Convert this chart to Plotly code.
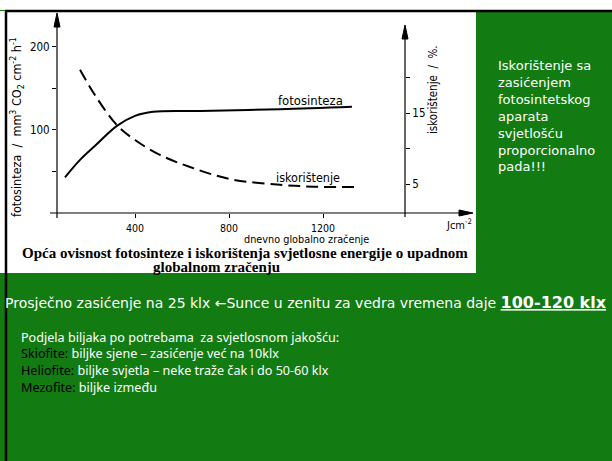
import plotly.graph_objects as go

W, H = 612, 461
def X(px): return px / W
def Y(py): return 1 - py / H

# ---- data ----
irr_fs = [102, 166, 230, 323, 400, 477, 677, 1017, 1323]
fotosinteza = [43, 64, 81, 105, 117, 122, 123, 125, 128]
irr_isk = [166, 230, 323, 400, 506, 634, 804, 1017, 1187, 1345]
iskoristenje = [21.1, 17.5, 13.3, 11.2, 9.1, 7.4, 5.7, 4.9, 4.6, 4.6]

x_ticks = [400, 800, 1200]
y1_ticks = [50, 100, 150, 200]
y1_labels = ["", "100", "", "200"]
y2_ticks = [5, 10, 15, 20]
y2_labels = ["5", "", "15", ""]

side_lines = ["Iskorištenje sa", "zasićenjem", "fotosintetskog", "aparata",
              "svjetlošću", "proporcionalno", "pada!!!"]
list_lines = [
    "Podjela biljaka po potrebama  za svjetlosnom jakošću:",
    "<span style='color:black'>Skiofite:</span> biljke sjene – zasićenje već na 10klx",
    "<span style='color:black'>Heliofite:</span> biljke svjetla – neke traže čak i do 50-60 klx",
    "<span style='color:black'>Mezofite:</span> biljke između",
]

GREEN = "#127b12"
COND = "DejaVu Sans Condensed, Liberation Sans Narrow, sans-serif"
SERIF = "Liberation Serif, serif"

fig = go.Figure()
fig.add_trace(go.Scatter(x=irr_fs, y=fotosinteza, mode="lines",
                         line=dict(color="black", width=2, shape="spline", smoothing=1),
                         showlegend=False, hoverinfo="skip"))
fig.add_trace(go.Scatter(x=irr_isk, y=iskoristenje, mode="lines", yaxis="y2",
                         line=dict(color="black", width=2, shape="spline", smoothing=1,
                                   dash="12px,6px"),
                         showlegend=False, hoverinfo="skip"))

shapes = [
    dict(type="rect", xref="paper", yref="paper", x0=0, x1=X(476), y0=Y(273), y1=Y(11),
         fillcolor="white", line=dict(width=0), layer="below"),
    dict(type="rect", xref="paper", yref="paper", x0=0, x1=1, y0=Y(10), y1=1,
         fillcolor="white", line=dict(width=0), layer="below"),
    dict(type="line", xref="paper", yref="paper", x0=X(5), x1=1, y0=Y(11), y1=Y(11),
         line=dict(color="black", width=2.5)),
    dict(type="line", xref="paper", yref="paper", x0=X(6), x1=X(6), y0=Y(11), y1=0,
         line=dict(color="black", width=2.5)),
    # axis lines
    dict(type="line", xref="paper", yref="paper", x0=X(50), x1=X(466), y0=Y(213), y1=Y(213),
         line=dict(color="black", width=1.2)),
    dict(type="line", xref="paper", yref="paper", x0=X(57), x1=X(57), y0=Y(218), y1=Y(20),
         line=dict(color="black", width=1.2)),
    dict(type="line", xref="paper", yref="paper", x0=X(405), x1=X(405), y0=Y(217), y1=Y(32),
         line=dict(color="black", width=1.2)),
    # arrowheads
    dict(type="path", xref="paper", yref="paper",
         path=f"M {X(57)},{Y(13)} L {X(54)},{Y(27)} L {X(60)},{Y(27)} Z",
         fillcolor="black", line=dict(color="black", width=1)),
    dict(type="path", xref="paper", yref="paper",
         path=f"M {X(405)},{Y(25)} L {X(402)},{Y(39)} L {X(408)},{Y(39)} Z",
         fillcolor="black", line=dict(color="black", width=1)),
    dict(type="path", xref="paper", yref="paper",
         path=f"M {X(473)},{Y(213)} L {X(459)},{Y(210)} L {X(459)},{Y(216)} Z",
         fillcolor="black", line=dict(color="black", width=1)),
]

def ann(text, px, py, size, color="black", family=COND, xanchor="center", angle=0, **kw):
    return dict(text=text, x=X(px), y=Y(py), xref="paper", yref="paper", showarrow=False,
                xanchor=xanchor, yanchor="middle", textangle=angle,
                font=dict(size=size, color=color, family=family), **kw)

annotations = [
    ann("fotosinteza  /  mm<sup>3</sup> CO<sub>2</sub> cm<sup>-2</sup> h<sup>-1</sup>", 17, 127, 12.5, angle=-90),
    ann("iskorištenje  /  %.", 433, 90, 11.5, angle=-90),
    ann("dnevno globalno zračenje", 306, 240, 10.8),
    ann("Jcm<sup>-2</sup>", 459, 224, 11),
    ann("fotosinteza", 310, 100, 13),
    ann("iskorištenje", 308, 177, 12.5),
    ann("<b>Opća ovisnost fotosinteze i iskorištenja svjetlosne energije o upadnom</b>", 245, 253, 15,
        family=SERIF),
    ann("<b>globalnom zračenju</b>", 216, 267, 15, family=SERIF),
    ann("Prosječno zasićenje na 25 klx ←Sunce u zenitu za vedra vremena daje "
        "<b><span style='text-decoration:underline;font-size:16px'>100-120 klx</span></b>",
        3, 302, 14, color="white", family="DejaVu Sans, sans-serif", xanchor="left"),
    ann("<br>".join(side_lines), 496, 116, 13, color="white",
        family="DejaVu Sans, sans-serif", xanchor="left", align="left"),
]
for i, t in enumerate(list_lines):
    annotations.append(ann(t, 19, 337 + 16.8 * i, 12.6, color="white",
                           family="Noto Sans, sans-serif", xanchor="left"))

tickfont = dict(size=11.5, color="black", family=COND)
fig.update_layout(
    width=W, height=H, margin=dict(l=0, r=0, t=0, b=0),
    paper_bgcolor=GREEN, plot_bgcolor="rgba(0,0,0,0)",
    shapes=shapes, annotations=annotations,
    xaxis=dict(domain=[X(57), X(472)], range=[68, 1834], showgrid=False, zeroline=False,
               showline=False, ticks="outside", ticklen=4, tickcolor="black",
               ticklabelstandoff=1,
               tickvals=x_ticks, ticktext=[str(v) for v in x_ticks],
               tickfont=dict(size=10.5, color="black", family=COND)),
    yaxis=dict(domain=[Y(213), Y(20)], range=[0, 232.5], showgrid=False, zeroline=False,
               showline=False, ticks="outside", ticklen=4, tickcolor="black",
               tickvals=y1_ticks, ticktext=y1_labels, tickfont=tickfont),
    yaxis2=dict(overlaying="y", anchor="free", position=X(405), side="right",
                range=[0.92, 28.1], showgrid=False, zeroline=False, showline=False,
                ticks="outside", ticklen=4, tickcolor="black",
                tickvals=y2_ticks, ticktext=y2_labels, tickfont=tickfont),
)

fig.write_html("out.html", config={"displayModeBar": False},
               post_script="document.body.style.margin='0';")
